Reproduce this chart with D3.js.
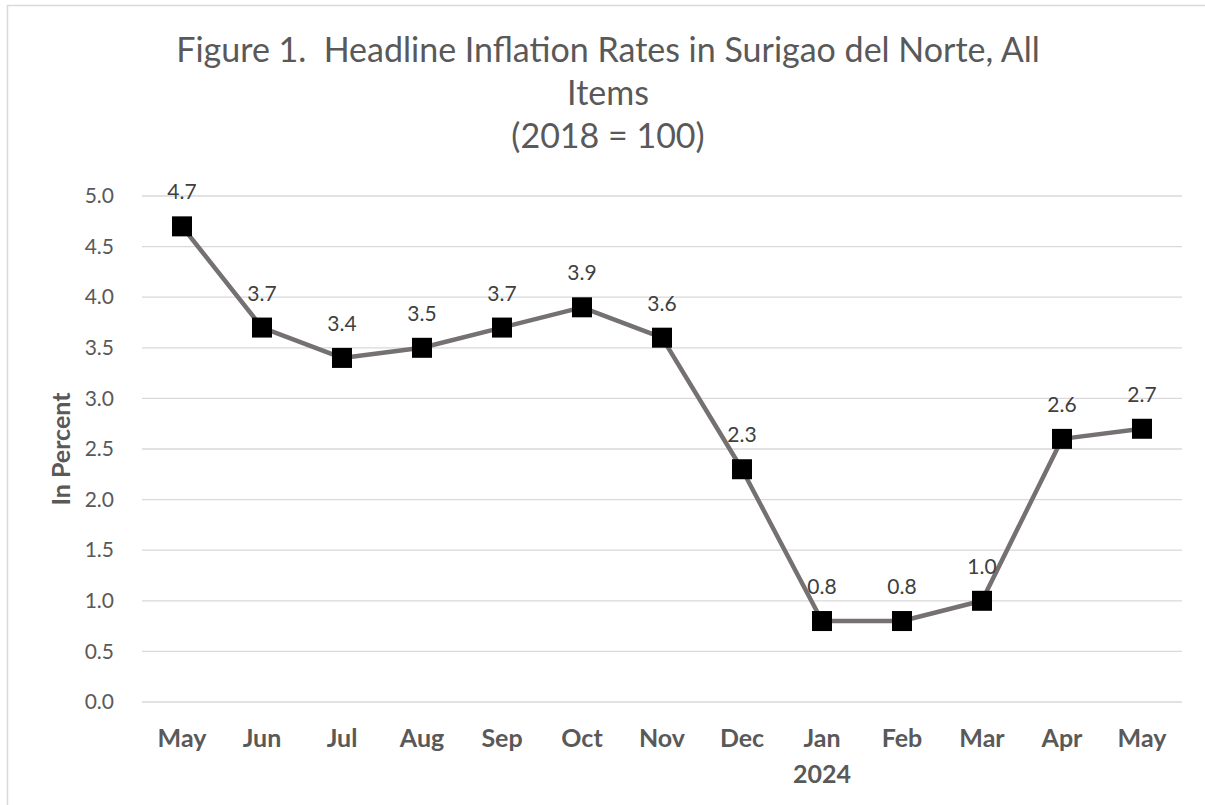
<!DOCTYPE html>
<html>
<head>
<meta charset="utf-8">
<script src="https://cdn.jsdelivr.net/npm/d3@7"></script>
<style>
  body { margin: 0; background: #fff; }
  svg text { font-family: Lato, "Open Sans", sans-serif; white-space: pre; }
</style>
</head>
<body>
<div id="chart"></div>
<script>
const months = ["May", "Jun", "Jul", "Aug", "Sep", "Oct", "Nov", "Dec", "Jan", "Feb", "Mar", "Apr", "May"]
const rates = [4.7, 3.7, 3.4, 3.5, 3.7, 3.9, 3.6, 2.3, 0.8, 0.8, 1.0, 2.6, 2.7]
const yTicks = [0.0, 0.5, 1.0, 1.5, 2.0, 2.5, 3.0, 3.5, 4.0, 4.5, 5.0]
const titleLines = ["Figure 1.  Headline Inflation Rates in Surigao del Norte, All", "Items", "(2018 = 100)"]

function drawChart() {
  const width = 1205,
    height = 805,
    margin = { "top": 196, "bottom": 103, "right": 23, "left": 142 }

  const svg = d3.select("#chart").append("svg")
    .attr("width", width)
    .attr("height", height)

  // chart frame (runs off the right and bottom)
  svg.append("rect")
    .attr("x", 7.5).attr("y", 5.5)
    .attr("width", 1300).attr("height", 900)
    .attr("fill", "none")
    .attr("stroke", "#d9d9d9")
    .attr("stroke-width", 1.5)

  let x = d3.scaleBand()
    .domain(d3.range(months.length))
    .range([margin.left, width - margin.right])

  let y = d3.scaleLinear()
    .domain([0, 5])
    .range([height - margin.bottom, margin.top])

  // gridlines
  svg.append("g")
    .selectAll("line")
    .data(yTicks)
    .enter()
    .append("line")
    .attr("x1", margin.left)
    .attr("x2", width - margin.right)
    .attr("y1", d => y(d))
    .attr("y2", d => y(d))
    .attr("stroke", "#d9d9d9")
    .attr("stroke-width", 1.3)

  // y axis labels
  let yAxis = d3.axisLeft(y).tickValues(yTicks).tickFormat(d3.format(".1f")).tickSize(0).tickPadding(0)
  let yG = svg.append("g")
    .attr("transform", `translate(${margin.left - 28},0)`)
    .call(yAxis)
  yG.select(".domain").remove()
  yG.selectAll("text")
    .attr("font-size", 21)
    .attr("fill", "#595959")
    .attr("font-family", "Lato, sans-serif")

  // x axis labels
  let xAxis = d3.axisBottom(x).tickFormat(i => months[i]).tickSize(0).tickPadding(0)
  let xG = svg.append("g")
    .attr("transform", `translate(0,${height - margin.bottom + 27})`)
    .call(xAxis)
  xG.select(".domain").remove()
  xG.selectAll("text")
    .attr("font-size", 25)
    .attr("font-weight", "bold")
    .attr("fill", "#595959")
    .attr("font-family", "Lato, sans-serif")

  svg.append("text")
    .text("2024")
    .attr("x", x(8) + x.bandwidth() / 2)
    .attr("y", 783)
    .attr("text-anchor", "middle")
    .attr("font-size", 25)
    .attr("font-weight", "bold")
    .attr("fill", "#595959")

  // y axis title
  svg.append("text")
    .text("In Percent")
    .attr("transform", `translate(70,${(margin.top + height - margin.bottom) / 2}) rotate(-90)`)
    .attr("text-anchor", "middle")
    .attr("font-size", 25)
    .attr("font-weight", "bold")
    .attr("fill", "#595959")

  // title
  svg.append("g")
    .selectAll("text")
    .data(titleLines)
    .enter()
    .append("text")
    .text(d => d)
    .attr("x", 608)
    .attr("y", (d, i) => 62 + i * 43)
    .attr("text-anchor", "middle")
    .attr("font-size", 34)
    .attr("fill", "#595959")

  let cx = i => x(i) + x.bandwidth() / 2

  // line
  let line = d3.line()
    .x((d, i) => cx(i))
    .y(d => y(d))

  svg.append("path")
    .datum(rates)
    .attr("d", line)
    .attr("fill", "none")
    .attr("stroke", "#767171")
    .attr("stroke-width", 4.5)
    .attr("stroke-linejoin", "round")

  // markers
  svg.append("g")
    .selectAll("rect")
    .data(rates)
    .enter()
    .append("rect")
    .attr("x", (d, i) => cx(i) - 10)
    .attr("y", d => y(d) - 10)
    .attr("width", 20)
    .attr("height", 20)
    .attr("fill", "#000")

  // data labels
  svg.append("g")
    .selectAll("text")
    .data(rates)
    .enter()
    .append("text")
    .text(d => d3.format(".1f")(d))
    .attr("x", (d, i) => cx(i))
    .attr("y", d => y(d) - 27)
    .attr("text-anchor", "middle")
    .attr("font-size", 21)
    .attr("fill", "#404040")
}

drawChart()
</script>
</body>
</html>
